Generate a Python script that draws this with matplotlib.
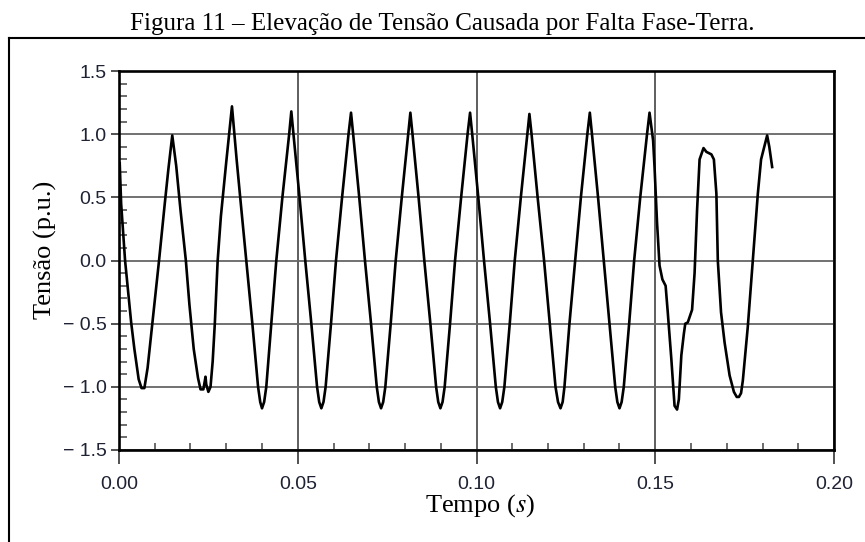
import matplotlib
matplotlib.use("Agg")
import matplotlib.pyplot as plt
from matplotlib.lines import Line2D
from matplotlib.ticker import FixedLocator, FixedFormatter, MultipleLocator

# waveform: time (s), voltage (p.u.)
tempo = [
    0.0002, 0.0006, 0.0017, 0.0034, 0.0043, 0.0055, 0.0063, 0.0071, 0.0080, 0.0095,
    0.0112, 0.0128, 0.0138, 0.0149, 0.0160, 0.0172, 0.0187, 0.0197, 0.0209, 0.0221,
    0.0228, 0.0236, 0.0242, 0.0244, 0.0250, 0.0256, 0.0262, 0.0268, 0.0276, 0.0285,
    0.0300, 0.0316, 0.0329, 0.0339, 0.0356, 0.0373, 0.0389, 0.0395, 0.0400, 0.0406,
    0.0412, 0.0426, 0.0440, 0.0457, 0.0476, 0.0482,
    0.0488, 0.0505, 0.0521, 0.0538, 0.0554, 0.0560, 0.0566, 0.0572, 0.0578, 0.0593,
    0.0607, 0.0624, 0.0642, 0.0649,
    0.0655, 0.0672, 0.0688, 0.0705, 0.0721, 0.0727, 0.0733, 0.0739, 0.0745, 0.0760,
    0.0774, 0.0791, 0.0809, 0.0815,
    0.0821, 0.0838, 0.0854, 0.0871, 0.0887, 0.0893, 0.0899, 0.0905, 0.0911, 0.0926,
    0.0940, 0.0957, 0.0975, 0.0982,
    0.0988, 0.1005, 0.1021, 0.1038, 0.1054, 0.1060, 0.1066, 0.1072, 0.1078, 0.1093,
    0.1107, 0.1124, 0.1142, 0.1148,
    0.1154, 0.1171, 0.1189, 0.1205, 0.1221, 0.1228, 0.1235, 0.1241, 0.1246, 0.1260,
    0.1276, 0.1292, 0.1310, 0.1317,
    0.1323, 0.1340, 0.1356, 0.1372, 0.1388, 0.1394, 0.1400, 0.1406, 0.1412, 0.1427,
    0.1441, 0.1458, 0.1477, 0.1484,
    0.1494, 0.1498, 0.1505, 0.1512, 0.1520, 0.1529, 0.1535, 0.1545, 0.1554, 0.1561,
    0.1566, 0.1573, 0.1580, 0.1584, 0.1591, 0.1603, 0.1610, 0.1617, 0.1624, 0.1635,
    0.1643, 0.1657, 0.1664, 0.1671, 0.1675, 0.1684, 0.1694, 0.1708, 0.1720, 0.1728,
    0.1734, 0.1740, 0.1745, 0.1759, 0.1773, 0.1787, 0.1796, 0.1813, 0.1819, 0.1827,
]
tensao = [
    0.77, 0.45, 0.00, -0.49, -0.70, -0.94, -1.01, -1.01, -0.85, -0.45,
    0.00, 0.45, 0.72, 0.99, 0.75, 0.40, 0.00, -0.35, -0.70, -0.93,
    -1.02, -1.02, -0.92, -0.98, -1.04, -1.00, -0.80, -0.50, 0.00, 0.35,
    0.78, 1.22, 0.80, 0.50, 0.00, -0.50, -1.00, -1.12, -1.17, -1.12,
    -1.00, -0.50, 0.00, 0.50, 1.00, 1.18,
    1.00, 0.50, 0.00, -0.50, -1.00, -1.12, -1.17, -1.12, -1.00, -0.50,
    0.00, 0.50, 1.00, 1.17,
    1.00, 0.50, 0.00, -0.50, -1.00, -1.12, -1.17, -1.12, -1.00, -0.50,
    0.00, 0.50, 1.00, 1.17,
    1.00, 0.50, 0.00, -0.50, -1.00, -1.12, -1.17, -1.12, -1.00, -0.50,
    0.00, 0.50, 1.00, 1.17,
    1.00, 0.50, 0.00, -0.50, -1.00, -1.12, -1.17, -1.12, -1.00, -0.50,
    0.00, 0.50, 1.00, 1.16,
    1.00, 0.50, 0.00, -0.50, -1.00, -1.12, -1.17, -1.12, -1.00, -0.50,
    0.00, 0.50, 1.00, 1.17,
    1.00, 0.50, 0.00, -0.50, -1.00, -1.12, -1.17, -1.12, -1.00, -0.50,
    0.00, 0.50, 1.00, 1.17,
    0.95, 0.74, 0.30, -0.04, -0.15, -0.20, -0.41, -0.78, -1.15, -1.18,
    -1.10, -0.75, -0.58, -0.50, -0.49, -0.39, -0.10, 0.40, 0.80, 0.89,
    0.86, 0.84, 0.80, 0.53, 0.00, -0.41, -0.65, -0.91, -1.04, -1.08,
    -1.08, -1.05, -0.95, -0.52, 0.00, 0.53, 0.80, 0.99, 0.90, 0.74,
]

x_ticks = [0.00, 0.05, 0.10, 0.15, 0.20]
x_labels = ["0.00", "0.05", "0.10", "0.15", "0.20"]
y_ticks = [-1.5, -1.0, -0.5, 0.0, 0.5, 1.0, 1.5]
y_labels = ["\u2212 1.5", "\u2212 1.0", "\u2212 0.5", "0.0", "0.5", "1.0", "1.5"]

plt.rcParams["mathtext.fontset"] = "stix"
serif = ["Liberation Serif", "DejaVu Serif"]
sans = ["Liberation Sans", "DejaVu Sans"]
W, H = 865, 542

fig = plt.figure(figsize=(W / 100, H / 100), dpi=100)
ax = fig.add_axes([119 / W, 1 - 450 / H, (834 - 119) / W, (450 - 71) / H])

ax.plot(tempo, tensao, color="black", lw=1.9, solid_joinstyle="round")

ax.set_xlim(0, 0.2)
ax.set_ylim(-1.5, 1.5)
ax.xaxis.set_major_locator(FixedLocator(x_ticks))
ax.xaxis.set_major_formatter(FixedFormatter(x_labels))
ax.yaxis.set_major_locator(FixedLocator(y_ticks))
ax.yaxis.set_major_formatter(FixedFormatter(y_labels))
ax.xaxis.set_minor_locator(MultipleLocator(0.01))
ax.yaxis.set_minor_locator(MultipleLocator(0.1))

ax.tick_params(axis="x", which="major", direction="out", length=10, width=1.2,
               pad=9, labelsize=14, labelcolor="#1e2233", color="#333333")
ax.tick_params(axis="y", which="major", direction="out", length=5.5, width=1.2,
               pad=3.5, labelsize=14, labelcolor="#1e2233", color="#333333")
ax.tick_params(axis="x", which="minor", direction="in", length=5, width=1.1, color="#444444")
ax.tick_params(axis="y", which="minor", direction="in", length=6, width=1.1, color="#444444")
for lab in ax.get_xticklabels() + ax.get_yticklabels():
    lab.set_family(sans)

ax.grid(True, axis="y", which="major", color="#666666", lw=1.3)
ax.grid(True, axis="x", which="major", color="#333333", lw=1.1)
for sp in ax.spines.values():
    sp.set_linewidth(1.9)
    sp.set_color("black")

fig.text(442 / W, 1 - 30 / H, "Figura 11 \u2013 Elevação de Tensão Causada por Falta Fase-Terra.",
         ha="center", va="baseline", fontsize=18, family=serif)
fig.text(480 / W, 1 - 512 / H, "Tempo ($\\mathit{s}$)", ha="center", va="baseline",
         fontsize=19, family=serif)
fig.text(45 / W, 1 - 250 / H, "Tensão (p.u.)", ha="center", va="center",
         rotation=90, fontsize=19, family=serif)

# outer frame (open at bottom and right, as in the source)
fig.add_artist(Line2D([9 / W, 9 / W], [0, 1 - 38 / H], transform=fig.transFigure,
                      color="black", lw=1.5))
fig.add_artist(Line2D([9 / W, 1], [1 - 38 / H, 1 - 38 / H], transform=fig.transFigure,
                      color="black", lw=1.5))

fig.savefig("out.png", dpi=100)
